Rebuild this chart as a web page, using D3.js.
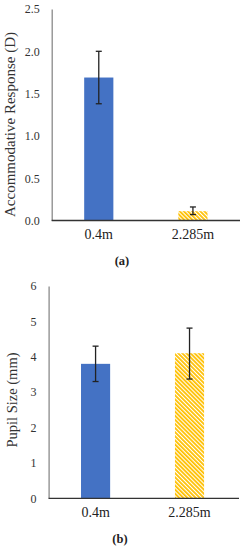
<!DOCTYPE html>
<html><head><meta charset="utf-8">
<script src="https://cdn.jsdelivr.net/npm/d3@7"></script>
<style>body{margin:0;background:#fff}svg{display:block}</style>
</head><body>
<svg id="c" width="243" height="550"></svg>
<script>
const categories = ["0.4m", "2.285m"];
const accomValues = [1.69, 0.11];
const accomErrLow = [1.38, 0.07];
const accomErrHigh = [2.0, 0.16];
const accomTicks = ["0.0","0.5","1.0","1.5","2.0","2.5"];
const pupilValues = [3.8, 4.1];
const pupilErrLow = [3.3, 3.37];
const pupilErrHigh = [4.3, 4.81];
const pupilTicks = ["0","1","2","3","4","5","6"];

const svg = d3.select("#c");
const defs = svg.append("defs");
const pat = defs.append("pattern").attr("id","hatch").attr("patternUnits","userSpaceOnUse")
  .attr("width",2.9).attr("height",2.9).attr("patternTransform","rotate(-45)");
pat.append("rect").attr("width",2.9).attr("height",2.9).attr("fill","#fff");
pat.append("rect").attr("width",1.8).attr("height",2.9).attr("fill","#FFC000");
const fills = ["#4472C4","url(#hatch)"];
const font = "'Liberation Serif', 'Times New Roman', serif";

function fit(sel, target){
  const n = sel.node(); const fs = +sel.attr("font-size");
  const L = n.getComputedTextLength();
  if (L > 0) sel.attr("font-size", (fs * target / L).toFixed(2));
}

function panel(o){
  const g = svg.append("g");
  const y = d3.scaleLinear().domain([0, +o.ticks[o.ticks.length-1]]).range([o.bottom, o.top]);
  const x = d3.scaleBand().domain(categories).range([o.left, o.right]).paddingInner(0.69).paddingOuter(0.345);
  g.selectAll("rect.bar").data(o.values).join("rect").attr("class","bar")
    .attr("x",(d,i)=>x(categories[i])).attr("width",x.bandwidth())
    .attr("y",d=>y(d)).attr("height",d=>o.bottom-y(d)).attr("fill",(d,i)=>fills[i]);
  const ya = d3.axisLeft(y).tickValues(o.ticks.map(Number)).tickFormat((d,i)=>o.ticks[i]).tickSize(0).tickPadding(12);
  const yg = g.append("g").attr("transform",`translate(${o.left},0)`).call(ya);
  yg.select(".domain").attr("stroke","#8a8a8a").attr("stroke-width",1.3);
  yg.selectAll("text").attr("font-family",font).attr("font-size",12).attr("fill","#333");
  const xa = d3.axisBottom(x).tickSize(0).tickPadding(9);
  const xg = g.append("g").attr("transform",`translate(0,${o.bottom})`).call(xa);
  xg.select(".domain").attr("stroke","#333").attr("stroke-width",1.3).attr("d",`M${o.left},0H${o.axisEnd}`);
  xg.selectAll("text").attr("font-family",font).attr("font-size",14).attr("fill","#222");
  const eb = g.selectAll("g.err").data(o.values).join("g").attr("class","err");
  const cx = i => x(categories[i]) + x.bandwidth()/2;
  eb.append("line").attr("x1",(d,i)=>cx(i)).attr("x2",(d,i)=>cx(i))
    .attr("y1",(d,i)=>y(o.hi[i])).attr("y2",(d,i)=>y(o.lo[i])).attr("stroke","#222").attr("stroke-width",1.3);
  [o.hi,o.lo].forEach(arr=>{
    eb.append("line").attr("x1",(d,i)=>cx(i)-3).attr("x2",(d,i)=>cx(i)+3)
      .attr("y1",(d,i)=>y(arr[i])).attr("y2",(d,i)=>y(arr[i])).attr("stroke","#222").attr("stroke-width",1.3);
  });
  const t = g.append("text").attr("transform",`translate(${o.titleX},${o.titleY}) rotate(-90)`)
    .attr("text-anchor","middle").attr("dominant-baseline","middle").attr("font-family",font).attr("font-size",15)
    .attr("fill","#333").text(o.title);
  fit(t, o.titleLen);
  g.append("text").attr("x",o.capX).attr("y",o.capY).attr("text-anchor","middle").attr("dominant-baseline","middle")
    .attr("font-family",font).attr("font-size",12.5).attr("font-weight","bold").attr("fill","#222").text(o.cap);
}

panel({values:accomValues, lo:accomErrLow, hi:accomErrHigh, ticks:accomTicks,
  left:51.7, right:240, axisEnd:240, top:9, bottom:220.5, title:"Accommodative Response (D)", titleX:12, titleY:124.5, titleLen:185,
  cap:"(a)", capX:122, capY:262});
panel({values:pupilValues, lo:pupilErrLow, hi:pupilErrHigh, ticks:pupilTicks,
  left:48.6, right:236.5, axisEnd:239, top:286, bottom:498.3, title:"Pupil Size (mm)", titleX:13.5, titleY:400, titleLen:95,
  cap:"(b)", capX:120, capY:540});
</script>
</body></html>
